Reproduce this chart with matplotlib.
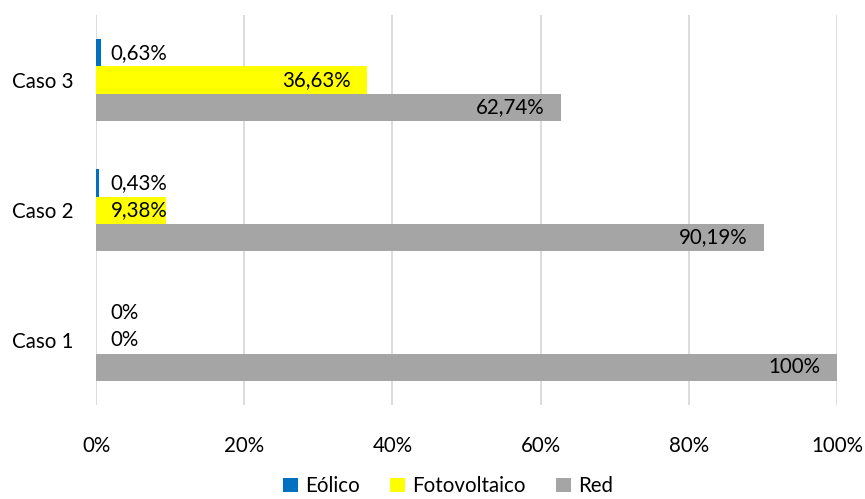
import numpy as np
import matplotlib.pyplot as plt

plt.rcParams['font.family'] = ['Lato', 'DejaVu Sans']

# Participación de cada fuente por caso
casos = ["Caso 1", "Caso 2", "Caso 3"]
eolico = [0.0, 0.0043, 0.0063]
fotovoltaico = [0.0, 0.0938, 0.3663]
red = [1.0, 0.9019, 0.6274]

series = [("Eólico", eolico, "#0070C0"),
          ("Fotovoltaico", fotovoltaico, "#FFFF00"),
          ("Red", red, "#A5A5A5")]

FS = 14.8

def fmt(v):
    s = f"{v*100:.2f}".rstrip("0").rstrip(".")
    return s.replace(".", ",") + "%"

fig = plt.figure(figsize=(8.65, 4.99), dpi=100)
ax = fig.add_axes([0.111, 0.188, 0.8566, 0.782])

y = np.arange(len(casos))
h = 0.208
offsets = [h, 0, -h]

for (name, vals, color), off in zip(series, offsets):
    ax.barh(y + off, vals, height=h, color=color, label=name, zorder=2)
    for yi, v in zip(y, vals):
        if v > 0.2:
            ax.text(v - 0.022, yi + off, fmt(v), ha="right", va="center",
                    fontsize=FS, color="#000000", zorder=3)
        else:
            ax.text(0.02, yi + off, fmt(v), ha="left", va="center",
                    fontsize=FS, color="#000000", zorder=3)

ax.set_xlim(0, 1)
ax.set_ylim(-0.5, 2.5)
ax.set_yticks(y)
ax.set_yticklabels(casos, fontsize=FS)
xt = np.linspace(0, 1, 6)
ax.set_xticks(xt)
ax.set_xticklabels([f"{int(t*100)}%" for t in xt], fontsize=FS)
ax.tick_params(length=0)
ax.tick_params(axis="x", pad=22)
ax.tick_params(axis="y", pad=16)
ax.grid(axis="x", color="#D9D9D9", linewidth=1.3, zorder=0)
for s in ax.spines.values():
    s.set_visible(False)

fig.legend(loc="lower center", ncol=3, frameon=False, fontsize=FS,
           handlelength=0.7, handleheight=0.7, handletextpad=0.35,
           columnspacing=1.5, bbox_to_anchor=(0.518, -0.032))

plt.savefig("out.png", dpi=100)
